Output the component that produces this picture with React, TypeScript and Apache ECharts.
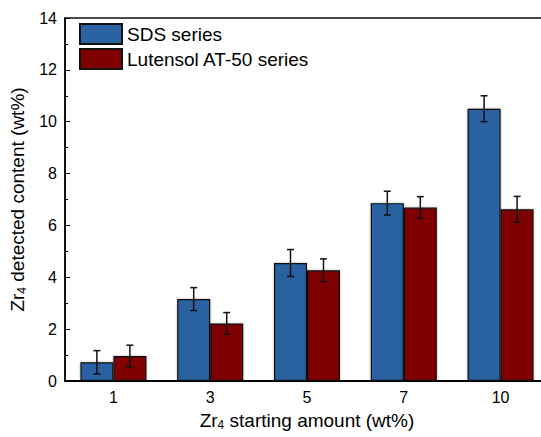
import React, { useEffect, useRef } from "react";
import * as echarts from "echarts";

// Zr4 starting amounts (wt%)
const categories = ["1", "3", "5", "7", "10"];
// Detected Zr4 content (wt%) and standard deviations
const sdsValues = [0.72, 3.16, 4.55, 6.86, 10.5];
const sdsErrors = [0.45, 0.44, 0.52, 0.46, 0.5];
const lutValues = [0.96, 2.22, 4.27, 6.69, 6.62];
const lutErrors = [0.42, 0.42, 0.44, 0.42, 0.5];

const BAR_W = 33;
const FONT = "Liberation Sans, Arial, sans-serif";

function errorSeries(name: string, values: number[], errors: number[], offset: number) {
  return {
    name,
    type: "custom",
    z: 5,
    silent: true,
    data: values.map((v, i) => [i, v - errors[i], v + errors[i]]),
    renderItem: (params: any, api: any) => {
      const idx = api.value(0);
      const lo = api.coord([idx, api.value(1)]);
      const hi = api.coord([idx, api.value(2)]);
      const x = lo[0] + offset;
      const cap = 3.5;
      const style = { stroke: "#111", lineWidth: 1.5 };
      return {
        type: "group",
        children: [
          { type: "line", shape: { x1: x, y1: lo[1], x2: x, y2: hi[1] }, style },
          { type: "line", shape: { x1: x - cap, y1: hi[1], x2: x + cap, y2: hi[1] }, style },
          { type: "line", shape: { x1: x - cap, y1: lo[1], x2: x + cap, y2: lo[1] }, style },
        ],
      };
    },
  };
}

const titleStyle = {
  fontSize: 19,
  color: "#000",
  fontFamily: FONT,
  rich: { sub: { fontSize: 12, padding: [9, 0, 0, 0], fontFamily: FONT, color: "#000" } },
};

export default function App() {
  const ref = useRef<HTMLDivElement>(null);

  useEffect(() => {
    if (!ref.current) return;
    const chart = echarts.init(ref.current, null, { renderer: "svg" });
    const barStyle = (color: string) => ({
      color,
      borderColor: "#111",
      borderWidth: 1.2,
      shadowColor: "rgba(0,0,0,0.35)",
      shadowBlur: 2,
    });
    chart.setOption({
      animation: false,
      textStyle: { fontFamily: FONT },
      grid: { left: 65, top: 18, width: 484, height: 363, show: true, borderColor: "#111", borderWidth: 1.5 },
      legend: {
        orient: "vertical",
        left: 74,
        top: 18,
        icon: "rect",
        itemWidth: 42,
        itemHeight: 20,
        itemGap: 3,
        data: ["SDS series", "Lutensol AT-50 series"],
        textStyle: { fontSize: 19, color: "#000", fontFamily: FONT },
      },
      xAxis: {
        type: "category",
        data: categories,
        name: "Zr{sub|4} starting amount (wt%)",
        nameLocation: "middle",
        nameGap: 29,
        nameTextStyle: titleStyle,
        axisLine: { lineStyle: { color: "#000", width: 2 } },
        axisTick: { inside: true, length: 4, lineStyle: { color: "#000" } },
        axisLabel: { fontSize: 16, color: "#000", margin: 8 },
        splitLine: { show: false },
      },
      yAxis: {
        type: "value",
        min: 0,
        max: 14,
        interval: 2,
        name: "Zr{sub|4} detected content (wt%)",
        nameLocation: "middle",
        nameGap: 30,
        nameTextStyle: titleStyle,
        axisLine: { show: true, lineStyle: { color: "#000", width: 1.5 } },
        axisTick: { show: true, inside: true, length: 5, lineStyle: { color: "#000" } },
        minorTick: { show: true, splitNumber: 2, length: 3, lineStyle: { color: "#000" } },
        axisLabel: { fontSize: 16, color: "#000", margin: 8 },
        splitLine: { show: false },
      },
      series: [
        {
          name: "SDS series",
          type: "bar",
          data: sdsValues,
          barWidth: BAR_W,
          barGap: "0%",
          itemStyle: barStyle("#2B62A1"),
        },
        {
          name: "Lutensol AT-50 series",
          type: "bar",
          data: lutValues,
          barWidth: BAR_W,
          barGap: "0%",
          itemStyle: barStyle("#7F0000"),
        },
        errorSeries("SDS error", sdsValues, sdsErrors, -BAR_W / 2),
        errorSeries("Lutensol error", lutValues, lutErrors, BAR_W / 2),
      ],
    });
    return () => chart.dispose();
  }, []);

  return (
    <div style={{ position: "fixed", left: 0, top: 0, width: "100vw", height: "100vh", overflow: "hidden", background: "#fff" }}>
      <div ref={ref} style={{ width: 552, height: 437 }} />
    </div>
  );
}
